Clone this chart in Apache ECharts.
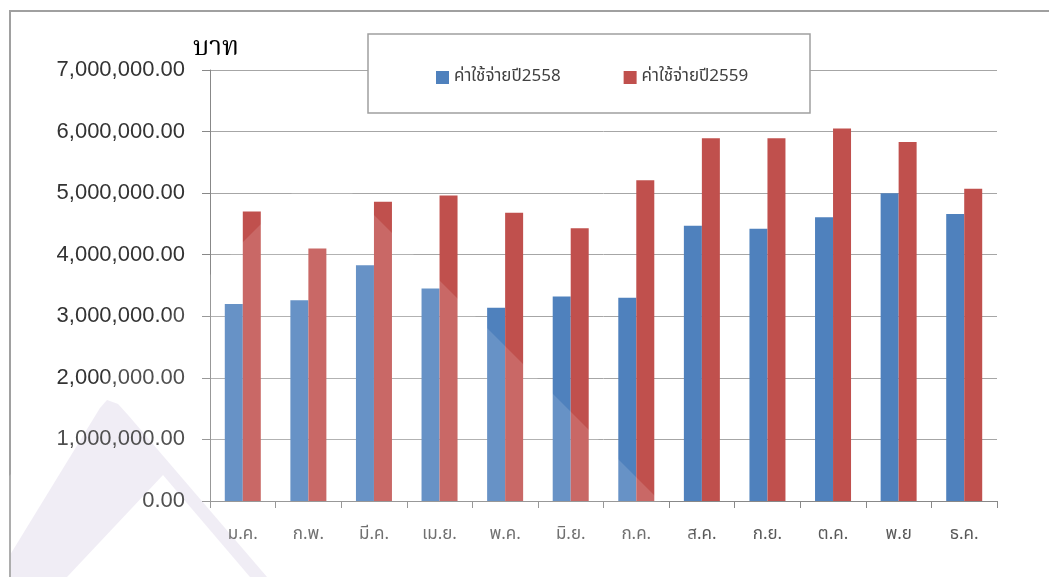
<!DOCTYPE html>
<html>
<head>
<meta charset="utf-8">
<script src="https://cdn.jsdelivr.net/npm/echarts@6/dist/echarts.min.js"></script>
<style>
  html, body { margin: 0; padding: 0; background: #ffffff; }
  #chart { width: 1049px; height: 577px; }
</style>
</head>
<body>
<div id="chart"></div>
<script>
// Monthly expenses (baht), fiscal years 2558 and 2559
const months = ['ม.ค.', 'ก.พ.', 'มี.ค.', 'เม.ย.', 'พ.ค.', 'มิ.ย.', 'ก.ค.', 'ส.ค.', 'ก.ย.', 'ต.ค.', 'พ.ย', 'ธ.ค.'];
const seriesNames = ['ค่าใช้จ่ายปี2558', 'ค่าใช้จ่ายปี2559'];
const expenses2558 = [3200000, 3260000, 3830000, 3450000, 3140000, 3320000, 3300000, 4470000, 4420000, 4610000, 5000000, 4660000];
const expenses2559 = [4700000, 4100000, 4860000, 4960000, 4680000, 4430000, 5210000, 5890000, 5890000, 6050000, 5830000, 5070000];
const yMax = 7000000;
const yStep = 1000000;
const unitLabel = 'บาท';

const thaiFont = '"Tahoma", "Noto Sans Thai", "DejaVu Sans", sans-serif';
const chart = echarts.init(document.getElementById('chart'), null, { renderer: 'canvas' });

const fmt = v => v.toLocaleString('en-US', { minimumFractionDigits: 2, maximumFractionDigits: 2 });

chart.setOption({
  animation: false,
  backgroundColor: '#ffffff',
  title: {
    text: unitLabel,
    left: 188,
    top: 33,
    textStyle: { fontFamily: '"Noto Serif Thai", "DejaVu Serif", serif', fontSize: 26, fontWeight: 'normal', color: '#000000' }
  },
  legend: {
    data: seriesNames,
    left: 431,
    top: 64,
    itemWidth: 13,
    itemHeight: 13,
    itemGap: 63,
    z: 20,
    icon: 'rect',
    textStyle: { fontFamily: thaiFont, fontSize: 17, color: '#404040' }
  },
  grid: { left: 210, right: 52, top: 70, bottom: 76, containLabel: false },
  xAxis: {
    type: 'category',
    data: months,
    axisLine: { lineStyle: { color: '#888888', width: 1 } },
    axisTick: { show: true, alignWithLabel: false, length: 7, lineStyle: { color: '#888888' } },
    axisLabel: { margin: 26, fontFamily: thaiFont, fontSize: 17, color: '#595959' },
    splitLine: { show: false }
  },
  yAxis: {
    type: 'value',
    min: 0,
    max: yMax,
    interval: yStep,
    axisLine: { show: true, lineStyle: { color: '#888888' } },
    axisTick: { show: true, length: 8, lineStyle: { color: '#888888' } },
    axisLabel: {
      margin: 25,
      formatter: v => fmt(v),
      fontFamily: '"Liberation Sans", Arial, sans-serif',
      fontSize: 22,
      color: '#333333'
    },
    splitLine: { show: true, lineStyle: { color: '#a6a6a6', width: 1 } }
  },
  series: [
    {
      name: seriesNames[0],
      type: 'bar',
      data: expenses2558,
      barWidth: 18,
      barGap: '0%',
      itemStyle: { color: '#4f81bd' }
    },
    {
      name: seriesNames[1],
      type: 'bar',
      data: expenses2559,
      barWidth: 18,
      barGap: '0%',
      itemStyle: { color: '#c0504d' }
    }
  ],
  graphic: [
    // outer frame (top and left edges)
    {
      type: 'polyline', z: 1, silent: true,
      shape: { points: [[10, 577], [10, 11], [1049, 11]] },
      style: { stroke: '#a0a0a0', lineWidth: 2, fill: null }
    },
    // faint logo mark in the lower left
    {
      type: 'polygon', z: -1, silent: true,
      shape: { points: [[107, 400], [118, 404], [128, 415], [267, 577], [250, 577], [163, 475], [67, 577], [10, 577], [10, 555], [100, 408]] },
      style: { fill: 'rgba(120, 90, 170, 0.13)' }
    },
    // legend box
    {
      type: 'rect', z: 10, silent: true,
      shape: { x: 368, y: 34, width: 442, height: 79 },
      style: { fill: '#ffffff', stroke: '#a0a0a0', lineWidth: 1.5 }
    },
    // soft light wedge over the left half of the plot
    {
      type: 'polygon', z: 50, silent: true,
      shape: { points: [[322, 163], [736, 577], [0, 577], [0, 485]] },
      style: { fill: 'rgba(255, 255, 255, 0.14)' }
    }
  ]
});
</script>
</body>
</html>
